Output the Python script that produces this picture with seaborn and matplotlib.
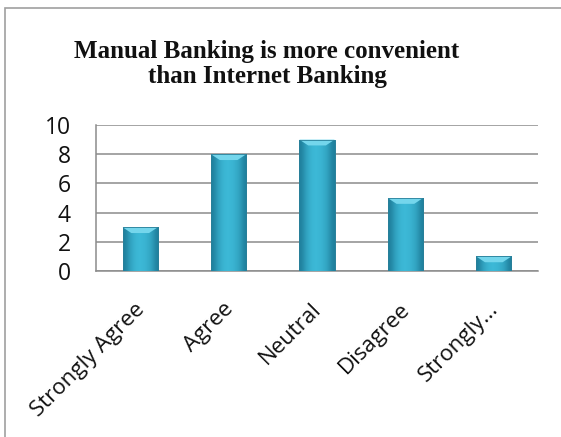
import numpy as np
import matplotlib
matplotlib.use("Agg")
import matplotlib.pyplot as plt
from matplotlib.patches import Rectangle, Polygon
from matplotlib.transforms import ScaledTranslation
import seaborn as sns
import pandas as pd

categories = ["Strongly Agree", "Agree", "Neutral", "Disagree", "Strongly..."]
responses = [3, 8, 9, 5, 1]
y_ticks = [0, 2, 4, 6, 8, 10]
title = "Manual Banking is more convenient\nthan Internet Banking"

sns.set_theme(style="white")
plt.rcParams["font.family"] = ["Open Sans", "DejaVu Sans"]

df = pd.DataFrame({"category": categories, "count": responses})

fig = plt.figure(figsize=(5.61, 4.37), dpi=100)
W, H = 561, 437

# chart frame
fig.add_artist(Rectangle((5 / W, -0.1), 1.2, 1 - 8 / H + 0.1,
                         transform=fig.transFigure, fill=False,
                         edgecolor="#a0a0a0", linewidth=1.2))

ax = fig.add_axes([96 / W, 1 - 271 / H, 442 / W, 146 / H])
sns.barplot(data=df, x="category", y="count", ax=ax, width=0.4,
            color="#34a8c8", saturation=1, edgecolor="#2a8aa6", linewidth=0.6,
            zorder=3)

ax.set_ylim(0, 10)
ax.set_yticks(y_ticks)
ax.yaxis.grid(True, color="#8c8c8c", linewidth=1.1, zorder=0)
ax.set_axisbelow(True)
for side in ["top", "right"]:
    ax.spines[side].set_visible(False)
for side in ["left", "bottom"]:
    ax.spines[side].set_color("#8c8c8c")
    ax.spines[side].set_linewidth(1.1)
ax.set_xlabel("")
ax.set_ylabel("")
ax.tick_params(axis="y", length=0, pad=18, labelsize=16.5, labelcolor="#111111")
ax.tick_params(axis="x", length=0, pad=20, labelsize=16, labelcolor="#111111")
shift = ScaledTranslation(-6 / 100, 0, fig.dpi_scale_trans)
for lbl in ax.get_xticklabels():
    lbl.set_rotation(45)
    lbl.set_ha("right")
    lbl.set_rotation_mode("anchor")
    lbl.set_transform(lbl.get_transform() + shift)

# shaded, bevelled bar faces
grad = np.array([[0.0, 0.55, 0.85, 1.0, 0.95, 0.8, 0.55, 0.0]])
cmap = matplotlib.colors.LinearSegmentedColormap.from_list(
    "bar", ["#1f7f9c", "#3dbad8"])
bevel = 0.4
for p in ax.patches:
    x0, w, h = p.get_x(), p.get_width(), p.get_height()
    im = ax.imshow(grad, cmap=cmap, aspect="auto", extent=(x0, x0 + w, 0, h),
                   interpolation="bicubic", zorder=3.5)
    im.set_clip_path(p)
    bh = min(bevel, h * 0.5)
    inset = w * 0.25
    ax.add_patch(Polygon([(x0, h), (x0 + w, h), (x0 + w - inset, h - bh),
                          (x0 + inset, h - bh)], closed=True,
                         facecolor="#74d6ec", edgecolor="none", zorder=3.6))
    ax.add_patch(Rectangle((x0, 0), w, h, fill=False, edgecolor="#2a7f99",
                           linewidth=0.6, zorder=3.7))
ax.set_xlim(-0.5, len(categories) - 0.5)
ax.set_ylim(0, 10)

fig.text(267 / W, 1 - 40 / H, title, ha="center", va="top",
         fontsize=18, fontweight="bold", family="Liberation Serif",
         linespacing=1.12, color="#111111")

fig.savefig("out.png", dpi=100)
